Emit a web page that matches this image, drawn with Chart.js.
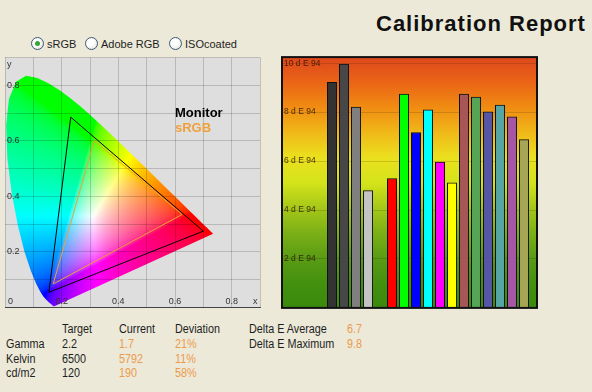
<!DOCTYPE html>
<html>
<head>
<meta charset="utf-8">
<script src="https://cdn.jsdelivr.net/npm/chart.js@4.4.1/dist/chart.umd.min.js"></script>
<style>
    html, body { margin: 0; padding: 0; }
    body {
        width: 592px; height: 392px; position: relative; overflow: hidden;
        background: #ece9d8; color: #1e1e1e;
        font-family: "Liberation Sans", Arial, sans-serif;
    }
    .title {
        position: absolute; left: 376px; top: 13px; line-height: 22px;
        font-size: 22px; font-weight: bold; letter-spacing: 1px; color: #111;
    }
    .radio { position: absolute; top: 37px; font-size: 11px; line-height: 14px; white-space: nowrap; }
    .radio i {
        display: inline-block; position: relative; width: 11px; height: 11px;
        margin-right: 3px; vertical-align: -2px; border: 1px solid #3d5a78; border-radius: 50%;
        background: radial-gradient(circle at 40% 40%, #ffffff 35%, #d8d8cc);
    }
    .radio.on i::after {
        content: ''; position: absolute; left: 3px; top: 3px; width: 5px; height: 5px;
        border-radius: 50%; background: #35a535;
    }
    canvas { position: absolute; }
    #cie { left: 0; top: 50px; }
    #de { left: 275px; top: 50px; }
    .cell {
        position: absolute; font-size: 12px; line-height: 14px; white-space: nowrap;
        transform: scaleX(0.9); transform-origin: 0 0;
    }
    .cell.o { color: #ec9a4c; }
</style>
</head>
<body>
<div class="title">Calibration Report</div>
<div class="radio on" style="left:31px"><i></i>sRGB</div>
<div class="radio" style="left:85px"><i></i>Adobe RGB</div>
<div class="radio" style="left:169px"><i></i>ISOcoated</div>

<canvas id="cie" width="270" height="265"></canvas>
<canvas id="de" width="270" height="265"></canvas>
<div id="stats"></div>

<script>
// CIE 1931 spectral locus (380..700 nm), closed by the line of purples
const locusXY = [
    [0.1741, 0.0050], [0.1738, 0.0049], [0.1733, 0.0048], [0.1726, 0.0048],
    [0.1714, 0.0051], [0.1703, 0.0058], [0.1689, 0.0069], [0.1669, 0.0086],
    [0.1644, 0.0109], [0.1611, 0.0138], [0.1566, 0.0177], [0.1510, 0.0227],
    [0.1440, 0.0297], [0.1355, 0.0399], [0.1241, 0.0578], [0.1096, 0.0868],
    [0.0913, 0.1327], [0.0687, 0.2007], [0.0454, 0.2950], [0.0235, 0.4127],
    [0.0082, 0.5384], [0.0039, 0.6548], [0.0139, 0.7502], [0.0389, 0.8120],
    [0.0743, 0.8338], [0.1142, 0.8262], [0.1547, 0.8059], [0.1929, 0.7816],
    [0.2296, 0.7543], [0.2658, 0.7243], [0.3016, 0.6923], [0.3373, 0.6589],
    [0.3731, 0.6245], [0.4087, 0.5896], [0.4441, 0.5547], [0.4788, 0.5202],
    [0.5125, 0.4866], [0.5448, 0.4544], [0.5752, 0.4242], [0.6029, 0.3965],
    [0.6270, 0.3725], [0.6482, 0.3514], [0.6658, 0.3340], [0.6801, 0.3197],
    [0.6915, 0.3083], [0.7006, 0.2993], [0.7079, 0.2920], [0.7140, 0.2859],
    [0.7190, 0.2809], [0.7230, 0.2770], [0.7260, 0.2740], [0.7300, 0.2700],
    [0.7320, 0.2680], [0.7347, 0.2653],
];

// gamut triangles (R, G, B)
const monitorGamut = [[0.70, 0.275], [0.232, 0.685], [0.155, 0.055]];
const srgbGamut = [[0.625, 0.335], [0.315, 0.600], [0.170, 0.085]];

// delta E 94 per measured patch
const patchNames = [
    'Gray 1', 'Gray 2', 'Gray 3', 'Gray 4',
    'Red', 'Green', 'Blue', 'Cyan', 'Magenta', 'Yellow',
    'Red 50', 'Green 50', 'Blue 50', 'Cyan 50', 'Magenta 50', 'Yellow 50',
];
const patchSlots = [1, 2, 3, 4, 6, 7, 8, 9, 10, 11, 12, 13, 14, 15, 16, 17];
const deltaE = [9.22, 9.96, 8.21, 4.79, 5.29, 8.74, 7.17, 8.09, 5.96, 5.11, 8.74, 8.62, 8.01, 8.29, 7.81, 6.88];
const patchColors = [
    '#333333', '#474747', '#7f7f7f', '#c4c4c4',
    '#ff0000', '#00ff00', '#0000ff', '#00ffff', '#ff00ff', '#ffff00',
    '#a65656', '#56a556', '#5656a6', '#56a6a6', '#a656a6', '#a6a656',
];
const deTicks = [2, 4, 6, 8, 10];

// summary table
const statRows = ['Gamma', 'Kelvin', 'cd/m2'];
const statTarget = ['2.2', '6500', '120'];
const statCurrent = ['1.7', '5792', '190'];
const statDeviation = ['21%', '11%', '58%'];
const deltaLabels = ['Delta E Average', 'Delta E Maximum'];
const deltaValues = ['6.7', '9.8'];

const closed = pts => pts.concat([pts[0]]).map(p => ({ x: p[0], y: p[1] }));

// xy chromaticity -> displayable sRGB (Y = 1, normalised to max channel)
function xyToRgb(cx, cy) {
    if (cy <= 0.0005) return [0, 0, 0];
    const X = cx / cy, Y = 1, Z = (1 - cx - cy) / cy;
    let r = 3.2406 * X - 1.5372 * Y - 0.4986 * Z;
    let g = -0.9689 * X + 1.8758 * Y + 0.0415 * Z;
    let b = 0.0557 * X - 0.2040 * Y + 1.0570 * Z;
    r = Math.max(r, 0); g = Math.max(g, 0); b = Math.max(b, 0);
    const m = Math.max(r, g, b) || 1;
    const enc = v => {
        v = v / m;
        v = v <= 0.0031308 ? 12.92 * v : 1.055 * Math.pow(v, 1 / 2.4) - 0.055;
        return Math.round(v * 255);
    };
    return [enc(r), enc(g), enc(b)];
}

// plot background + colored horseshoe clipped to the locus dataset
const cieBackground = {
    id: 'cieBackground',
    beforeDraw(chart) {
        const { ctx, chartArea: a, scales: { x, y } } = chart;
        ctx.save();
        ctx.fillStyle = '#dedede';
        ctx.fillRect(a.left, a.top, a.width, a.height);

        const w = Math.ceil(a.width), h = Math.ceil(a.height);
        const off = document.createElement('canvas');
        off.width = w; off.height = h;
        const octx = off.getContext('2d');
        const img = octx.createImageData(w, h);
        for (let j = 0; j < h; j++) {
            const cy = y.getValueForPixel(a.top + j + 0.5);
            for (let i = 0; i < w; i++) {
                const cx = x.getValueForPixel(a.left + i + 0.5);
                const c = xyToRgb(cx, cy);
                const k = (j * w + i) * 4;
                img.data[k] = c[0]; img.data[k + 1] = c[1]; img.data[k + 2] = c[2]; img.data[k + 3] = 255;
            }
        }
        octx.putImageData(img, 0, 0);

        const pts = chart.getDatasetMeta(0).data;
        ctx.beginPath();
        pts.forEach((p, i) => (i ? ctx.lineTo(p.x, p.y) : ctx.moveTo(p.x, p.y)));
        ctx.closePath();
        ctx.clip();
        ctx.drawImage(off, a.left, a.top);
        ctx.restore();
    },
    afterDraw(chart) {
        const { ctx, chartArea: a, scales: { x, y } } = chart;
        ctx.save();
        // gamut names, anchored in chromaticity units
        ctx.font = 'bold 13px "Liberation Sans", Arial, sans-serif';
        ctx.textBaseline = 'middle';
        [1, 2].forEach((di, n) => {
            const ds = chart.data.datasets[di];
            ctx.fillStyle = ds.borderColor;
            ctx.fillText(ds.label, x.getPixelForValue(0.6), y.getPixelForValue(0.7 - n * 0.055));
        });
        // axis names
        ctx.font = '9px "Liberation Sans", Arial, sans-serif';
        ctx.fillStyle = '#333';
        ctx.fillText('y', a.left + 2, a.top + 7);
        ctx.fillText('0', a.left + 3, a.bottom - 6);
        ctx.fillText('x', a.right - 7, a.bottom - 6);
        ctx.restore();
    },
};

const cieLabel = v => {
    const t = Math.round(v * 10);
    return t > 0 && t < 9 && t % 2 === 0 ? (t / 10).toFixed(1) : '';
};

new Chart(document.getElementById('cie'), {
    type: 'scatter',
    data: {
        datasets: [
            { label: 'locus', data: closed(locusXY), pointRadius: 0, showLine: false },
            {
                label: 'Monitor', data: closed(monitorGamut), showLine: true,
                borderColor: '#000000', borderWidth: 1, pointRadius: 0,
            },
            {
                label: 'sRGB', data: closed(srgbGamut), showLine: true,
                borderColor: '#f0a03c', borderWidth: 1, pointRadius: 0,
            },
        ],
    },
    options: {
        responsive: false,
        animation: false,
        events: [],
        layout: { padding: { left: 5, top: 5, right: 10, bottom: 4 } },
        plugins: { legend: { display: false }, tooltip: { enabled: false } },
        scales: {
            x: {
                type: 'linear', min: 0, max: 0.9,
                afterFit(scale) { scale.height = 0; },
                grid: { color: 'rgba(0,0,0,0.17)', drawTicks: false },
                border: { display: true, color: '#444', width: 1 },
                ticks: {
                    stepSize: 0.1, mirror: true, padding: 1, maxRotation: 0, autoSkip: false,
                    color: '#333', font: { family: '"Liberation Sans", Arial', size: 9 },
                    callback: cieLabel,
                },
            },
            y: {
                type: 'linear', min: 0, max: 0.9,
                afterFit(scale) { scale.width = 0; },
                grid: { color: 'rgba(0,0,0,0.17)', drawTicks: false },
                border: { display: false },
                ticks: {
                    stepSize: 0.1, mirror: true, padding: 2, autoSkip: false,
                    color: '#333', font: { family: '"Liberation Sans", Arial', size: 9 },
                    callback: cieLabel,
                },
            },
        },
    },
    plugins: [cieBackground],
});

// heat gradient behind the delta E bars + frame
const deBackground = {
    id: 'deBackground',
    beforeDraw(chart) {
        const { ctx, chartArea: a } = chart;
        const g = ctx.createLinearGradient(0, a.top, 0, a.bottom);
        g.addColorStop(0.00, '#de481c');
        g.addColorStop(0.10, '#ea6416');
        g.addColorStop(0.20, '#f08c12');
        g.addColorStop(0.30, '#f0b818');
        g.addColorStop(0.40, '#ebe01e');
        g.addColorStop(0.50, '#d4e41a');
        g.addColorStop(0.60, '#a6c818');
        g.addColorStop(0.70, '#7cb016');
        g.addColorStop(0.80, '#5a9c14');
        g.addColorStop(0.90, '#44900f');
        g.addColorStop(1.00, '#3a8a0e');
        ctx.save();
        ctx.fillStyle = g;
        ctx.fillRect(a.left, a.top, a.width, a.height);
        ctx.restore();
    },
    afterDraw(chart) {
        const { ctx, chartArea: a } = chart;
        ctx.save();
        ctx.strokeStyle = '#111';
        ctx.lineWidth = 2;
        ctx.strokeRect(a.left, a.top, a.width, a.height);
        ctx.restore();
    },
};

new Chart(document.getElementById('de'), {
    type: 'bar',
    data: {
        labels: patchNames,
        datasets: [{
            label: 'dE94',
            data: patchSlots.map((s, i) => ({ x: s, y: deltaE[i] })),
            backgroundColor: patchColors,
            borderColor: '#111111',
            borderWidth: 1,
            borderSkipped: 'start',
            barThickness: 9.4,
        }],
    },
    options: {
        responsive: false,
        animation: false,
        events: [],
        layout: { padding: { left: 7, top: 5, right: 8, bottom: 6 } },
        plugins: { legend: { display: false }, tooltip: { enabled: false } },
        scales: {
            x: { type: 'linear', min: -3.17, max: 18.08, offset: false, display: false },
            y: {
                min: 0, max: 10.25,
                afterFit(scale) { scale.width = 0; },
                afterBuildTicks(scale) { scale.ticks = deTicks.map(v => ({ value: v })); },
                grid: { drawTicks: false, color: 'rgba(0,0,0,0.14)' },
                border: { display: false },
                ticks: {
                    mirror: true, padding: 2, autoSkip: false,
                    color: 'rgba(45,20,0,0.85)', font: { family: '"Liberation Sans", Arial', size: 8.5 },
                    callback: v => v + ' d E 94',
                },
            },
        },
    },
    plugins: [deBackground],
});

// summary table under the charts
const stats = document.getElementById('stats');
function cell(text, left, top, orange) {
    const d = document.createElement('div');
    d.className = orange ? 'cell o' : 'cell';
    d.textContent = text;
    d.style.left = left + 'px';
    d.style.top = top + 'px';
    stats.appendChild(d);
}
const rowTop = [322, 337, 351.5, 366];
['Target', 'Current', 'Deviation'].forEach((h, i) => cell(h, [62, 119, 175][i], rowTop[0]));
statRows.forEach((r, i) => {
    cell(r, 6, rowTop[i + 1]);
    cell(statTarget[i], 62, rowTop[i + 1]);
    cell(statCurrent[i], 119, rowTop[i + 1], true);
    cell(statDeviation[i], 175, rowTop[i + 1], true);
});
deltaLabels.forEach((l, i) => {
    cell(l, 249, rowTop[i]);
    cell(deltaValues[i], 347, rowTop[i], true);
});
</script>
</body>
</html>
